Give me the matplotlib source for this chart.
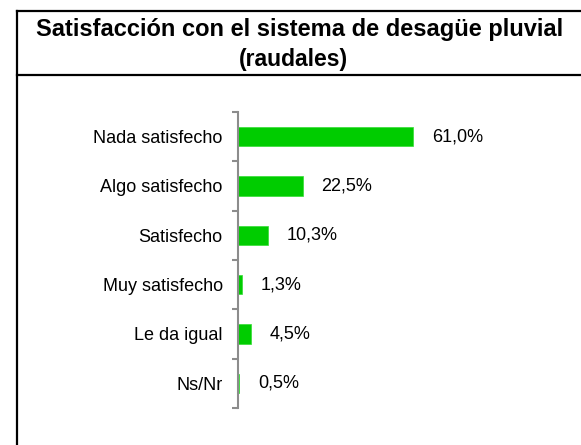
import matplotlib
matplotlib.use('Agg')
import matplotlib.pyplot as plt
from matplotlib.lines import Line2D

plt.rcParams['font.family'] = ['Liberation Sans', 'DejaVu Sans']

categories = ['Nada satisfecho', 'Algo satisfecho', 'Satisfecho',
              'Muy satisfecho', 'Le da igual', 'Ns/Nr']
values = [61.0, 22.5, 10.3, 1.3, 4.5, 0.5]
value_labels = ['61,0%', '22,5%', '10,3%', '1,3%', '4,5%', '0,5%']
title_lines = ['Satisfacción con el sistema de desagüe pluvial', '(raudales)']

W, H = 581, 445
fig = plt.figure(figsize=(W / 100, H / 100), dpi=100)

# frame around the chart: left border + two horizontal lines of the title box
fig.add_artist(Line2D([16.5 / W, 16.5 / W], [0, 1 - 11 / H], transform=fig.transFigure,
                      color='black', lw=1.6))
fig.add_artist(Line2D([16.5 / W, 1], [1 - 11 / H, 1 - 11 / H], transform=fig.transFigure,
                      color='black', lw=1.6))
fig.add_artist(Line2D([16.5 / W, 1], [1 - 74.5 / H, 1 - 74.5 / H], transform=fig.transFigure,
                      color='black', lw=1.6))
fig.text(300 / W, 1 - 36 / H, title_lines[0], ha='center', va='baseline', fontsize=17,
         fontweight='bold')
fig.text(293 / W, 1 - 66 / H, title_lines[1], ha='center', va='baseline', fontsize=16.5,
         fontweight='bold')

ax = fig.add_axes([238 / W, (H - 408) / H, 287 / W, 296 / H])
ypos = list(range(len(categories)))
ax.barh(ypos, values, height=0.39, color='#00cc00', edgecolor='#33dd33', linewidth=0.5)
for y, v, lab in zip(ypos, values, value_labels):
    ax.text(v + 6.5, y, lab, ha='left', va='center', fontsize=13)

ax.set_xlim(0, 100)
ax.set_ylim(len(categories) - 0.5, -0.5)
ax.set_yticks(ypos)
ax.set_yticklabels(categories, fontsize=13)
ax.set_yticks([i - 0.5 for i in range(len(categories) + 1)], minor=True)
ax.tick_params(axis='y', which='major', length=0, pad=11)
ax.tick_params(axis='y', which='minor', length=4.5, width=1.5, color='#8c8c8c')
ax.set_xticks([])
for side in ['top', 'right', 'bottom']:
    ax.spines[side].set_visible(False)
ax.spines['left'].set_color('#8c8c8c')
ax.spines['left'].set_linewidth(1.5)
ax.patch.set_alpha(0)

fig.savefig('out.png', dpi=100)
